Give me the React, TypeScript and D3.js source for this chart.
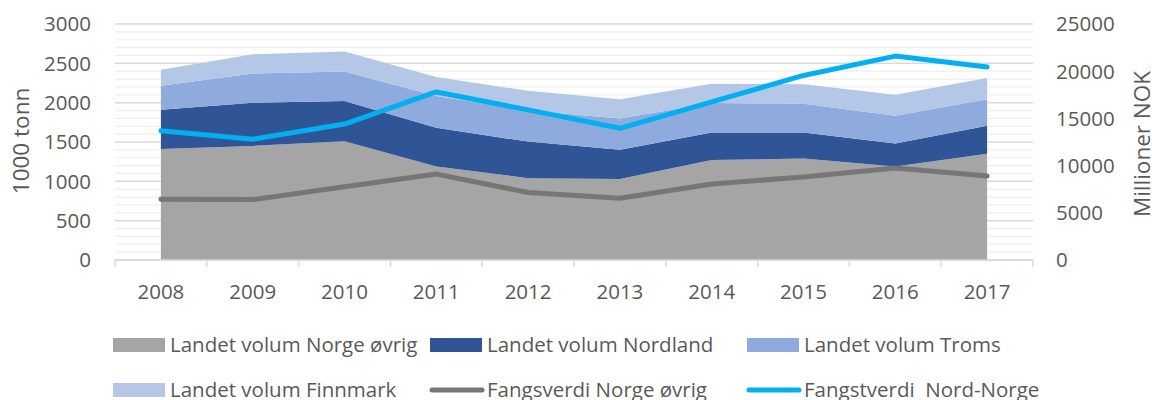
import React from "react";
import * as d3 from "d3";

const years = ["2008", "2009", "2010", "2011", "2012", "2013", "2014", "2015", "2016", "2017"];
const volumNorgeOvrig = [1410, 1450, 1510, 1190, 1040, 1030, 1270, 1290, 1190, 1350];
const volumNordland = [500, 550, 510, 490, 465, 370, 350, 330, 290, 355];
const volumTroms = [305, 370, 375, 405, 395, 400, 375, 365, 355, 340];
const volumFinnmark = [205, 245, 255, 240, 250, 245, 245, 250, 265, 270];
const fangsverdiNorgeOvrig = [6430, 6400, 7750, 9100, 7150, 6550, 8050, 8800, 9750, 8900];
const fangstverdiNordNorge = [13700, 12800, 14400, 17800, 15900, 13950, 16750, 19550, 21600, 20450];
const leftTicks = [0, 500, 1000, 1500, 2000, 2500, 3000];
const rightTicks = [0, 5000, 10000, 15000, 20000, 25000];

const areaSeries = [
  { key: "ovrig", name: "Landet volum Norge øvrig", values: volumNorgeOvrig, color: "#a5a5a5" },
  { key: "nordland", name: "Landet volum Nordland", values: volumNordland, color: "#2f5597" },
  { key: "troms", name: "Landet volum Troms", values: volumTroms, color: "#8faadc" },
  { key: "finnmark", name: "Landet volum Finnmark", values: volumFinnmark, color: "#b4c7e7" },
];
const lineSeries = [
  { name: "Fangsverdi Norge øvrig", values: fangsverdiNorgeOvrig, color: "#767676" },
  { name: "Fangstverdi  Nord-Norge", values: fangstverdiNordNorge, color: "#00b0f0" },
];

const FONT = "'Open Sans', sans-serif";
const FS = 20.5;
const FS_TITLE = 22.5;
const TXT = "#595959";

export default function App() {
  const W = 1152, H = 400;
  const left = 115, right = 1033, top = 24, bottom = 260;
  const x = d3.scaleBand<string>().domain(years).range([left, right]).paddingInner(0).paddingOuter(0);
  const cx = (i: number) => (x(years[i]) as number) + x.bandwidth() / 2;
  const yL = d3.scaleLinear().domain([0, 3000]).range([bottom, top]);
  const yR = d3.scaleLinear().domain([0, 25000]).range([bottom, top]);

  const table = years.map((yr, i) => {
    const row: any = { year: yr, i };
    areaSeries.forEach((s) => (row[s.key] = s.values[i]));
    return row;
  });
  const stacked = d3.stack<any>().keys(areaSeries.map((s) => s.key))(table);
  const area = d3
    .area<any>()
    .x((d) => cx(d.data.i))
    .y0((d) => yL(d[0]))
    .y1((d) => yL(d[1]));
  const line = d3
    .line<number>()
    .x((_, i) => cx(i))
    .y((v) => yR(v));

  const minor = d3.range(0, 3001, 100);

  const legendRows = [
    [
      { type: "rect", name: areaSeries[0].name, color: areaSeries[0].color, x: 113 },
      { type: "rect", name: areaSeries[1].name, color: areaSeries[1].color, x: 430 },
      { type: "rect", name: areaSeries[2].name, color: areaSeries[2].color, x: 747 },
    ],
    [
      { type: "rect", name: areaSeries[3].name, color: areaSeries[3].color, x: 113 },
      { type: "line", name: lineSeries[0].name, color: lineSeries[0].color, x: 430 },
      { type: "line", name: lineSeries[1].name, color: lineSeries[1].color, x: 747 },
    ],
  ];
  const rowY = [345, 390];

  return (
    <svg
      width={W}
      height={H}
      style={{ position: "absolute", left: 0, top: 0, display: "block", background: "#fff" }}
      fontFamily={FONT}
    >
      {/* gridlines */}
      {minor.map((v) => (
        <line
          key={"g" + v}
          x1={left}
          x2={right}
          y1={yL(v)}
          y2={yL(v)}
          stroke={v % 500 === 0 ? "#d9d9d9" : "#eeeeee"}
          strokeWidth={v % 500 === 0 ? 1.5 : 1.2}
        />
      ))}
      {/* areas */}
      {stacked.map((layer, li) => (
        <path key={layer.key} d={area(layer) as string} fill={areaSeries[li].color} />
      ))}
      {/* x axis */}
      <line x1={left} x2={right} y1={bottom} y2={bottom} stroke="#d9d9d9" strokeWidth={1.5} />
      {years.map((yr, i) => (
        <line
          key={"t" + yr}
          x1={x(yr) as number}
          x2={x(yr) as number}
          y1={bottom}
          y2={bottom + 7}
          stroke="#d9d9d9"
          strokeWidth={1.5}
        />
      ))}
      <line x1={right} x2={right} y1={bottom} y2={bottom + 7} stroke="#d9d9d9" strokeWidth={1.5} />
      {/* lines */}
      {lineSeries.map((s) => (
        <path
          key={s.name}
          d={line(s.values) as string}
          fill="none"
          stroke={s.color}
          strokeWidth={5}
          strokeLinejoin="round"
          strokeLinecap="round"
        />
      ))}
      {/* x labels */}
      {years.map((yr, i) => (
        <text key={"xl" + yr} x={cx(i)} y={299} textAnchor="middle" fontSize={FS} fill={TXT}>
          {yr}
        </text>
      ))}
      {/* left ticks */}
      {leftTicks.map((v) => (
        <text key={"l" + v} x={91} y={yL(v) + 7.3} textAnchor="end" fontSize={FS} fill={TXT}>
          {v}
        </text>
      ))}
      {/* right ticks */}
      {rightTicks.map((v) => (
        <text key={"r" + v} x={1056} y={yR(v) + 7.3} textAnchor="start" fontSize={FS} fill={TXT}>
          {v}
        </text>
      ))}
      {/* axis titles */}
      <text
        transform={`translate(29,141) rotate(-90)`}
        textAnchor="middle"
        fontSize={FS_TITLE}
        fill={TXT}
      >
        1000 tonn
      </text>
      <text
        transform={`translate(1150,144) rotate(-90)`}
        textAnchor="middle"
        fontSize={FS_TITLE}
        fill={TXT}
      >
        Millioner NOK
      </text>
      {/* legend */}
      {legendRows.map((row, ri) =>
        row.map((item) => (
          <g key={item.name}>
            {item.type === "rect" ? (
              <rect x={item.x} y={rowY[ri] - 7} width={52} height={14} fill={item.color} />
            ) : (
              <line
                x1={item.x + 2}
                x2={item.x + 52}
                y1={rowY[ri]}
                y2={rowY[ri]}
                stroke={item.color}
                strokeWidth={5}
                strokeLinecap="round"
              />
            )}
            <text x={item.x + 57} y={rowY[ri] + 7.3} fontSize={FS} fill={TXT} style={{ whiteSpace: "pre" }}>
              {item.name}
            </text>
          </g>
        ))
      )}
    </svg>
  );
}
